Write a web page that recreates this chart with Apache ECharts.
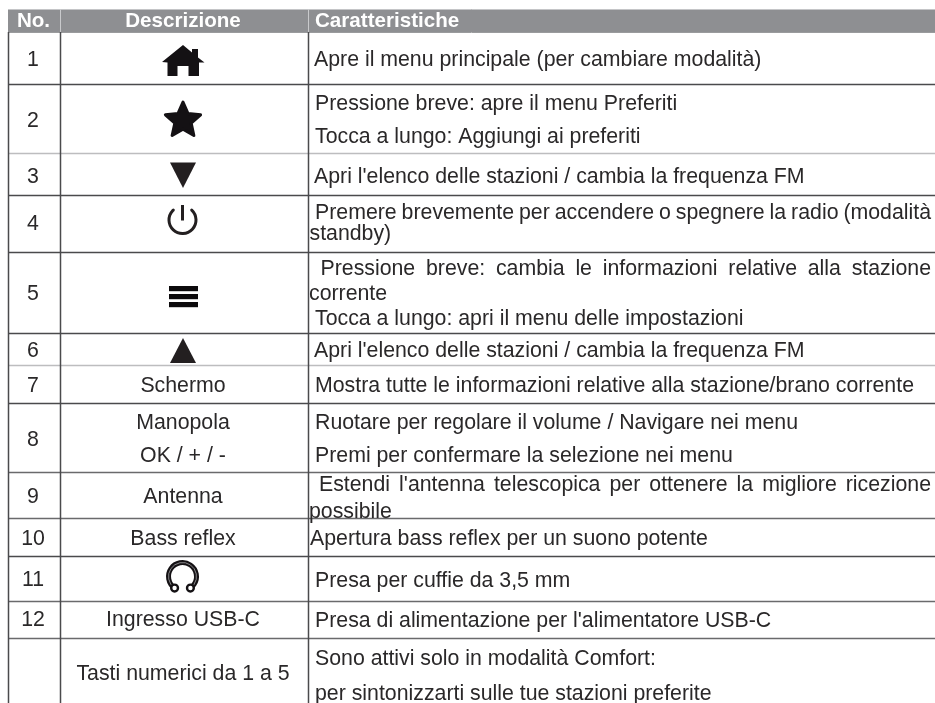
<!DOCTYPE html>
<html><head><meta charset="utf-8"><style>html,body{margin:0;padding:0;background:#fff}#c{width:935px;height:703px;filter:blur(0.35px)}</style>
<script src="https://cdn.jsdelivr.net/npm/echarts@6/dist/echarts.min.js"></script></head>
<body><div id="c"></div>
<script>
const headers = ['No.', 'Descrizione', 'Caratteristiche'];
const rowNumbers = ['1','2','3','4','5','6','7','8','9','10','11','12',''];
const descriptions = [['@home'],['@star'],['@down'],['@power'],['@menu'],['@up'],['Schermo'],['Manopola','OK / + / -'],['Antenna'],['Bass reflex'],['@phones'],['Ingresso USB-C'],['Tasti numerici da 1 a 5']];
const features = [
 ['Apre il menu principale (per cambiare modalità)'],
 ['Pressione breve: apre il menu Preferiti','Tocca a lungo: Aggiungi ai preferiti'],
 ["Apri l'elenco delle stazioni / cambia la frequenza FM"],
 ['Premere brevemente per accendere o spegnere la radio (modalità','standby)'],
 ['Pressione breve: cambia le informazioni relative alla stazione','corrente','Tocca a lungo: apri il menu delle impostazioni'],
 ["Apri l'elenco delle stazioni / cambia la frequenza FM"],
 ['Mostra tutte le informazioni relative alla stazione/brano corrente'],
 ['Ruotare per regolare il volume / Navigare nei menu','Premi per confermare la selezione nei menu'],
 ["Estendi l'antenna telescopica per ottenere la migliore ricezione",'possibile'],
 ['Apertura bass reflex per un suono potente'],
 ['Presa per cuffie da 3,5 mm'],
 ["Presa di alimentazione per l'alimentatore USB-C"],
 ['Sono attivi solo in modalità Comfort:','per sintonizzarti sulle tue stazioni preferite']
];

// layout
const X0=8.5, X1=60.5, X2=308.5, XR=935, NUMX=33, DESCX=183;
const rowEdges=[32.5,84.5,153.5,195.5,252.5,333.5,365.5,403.5,472.5,518.5,556.5,601.5,638.5,703];
const edgeColors=['#4a4a4c','#bdbdbf','#4a4a4c','#4a4a4c','#4a4a4c','#bdbdbf','#4a4a4c','#6a6a6c','#6a6a6c','#4a4a4c','#6a6a6c','#6a6a6c'];
const numY=[59,120,176,223,293,350,385,439,496,538,579,619];
const descY=[[],[],[],[],[],[],[385],[422,455],[496],[538],[],[619],[673]];
const lineY=[[59],[103,136],[176],[212,233],[268,293,318],[350],[385],[422,455],[484,511],[538],[580],[620],[658,693]];
const lineX=[[314],[315,315],[314],[315,309.5],[320.5,309,315],[314],[315],[315,315],[319,309],[310],[315],[315],[315,315]];
const FONT='"Liberation Sans", Arial, sans-serif';
const FS='21.3px '+FONT, FB='bold 20.6px '+FONT, INK='#2a2829';
const JUSTIFY={3:[0,931],4:[0,931],8:[0,931]};
const g=[];
const ln=(x1,y1,x2,y2,c,w)=>g.push({type:'line',silent:true,shape:{x1,y1,x2,y2},style:{stroke:c,lineWidth:w||1.3}});
const tx=(text,x,y,align,font,fill)=>g.push({type:'text',silent:true,style:{text,x,y:y+0.8,font:font||FS,fill:fill||INK,textAlign:align||'left',textVerticalAlign:'middle'}});
const poly=(points,fill,stroke,w)=>g.push({type:'polygon',silent:true,shape:{points},style:{fill:fill||'none',stroke:stroke||'none',lineWidth:w||0,lineJoin:'round'}});

// header
g.push({type:'rect',silent:true,shape:{x:8,y:9,width:927,height:23},style:{fill:'#8e8f92'}});
ln(8,9.5,935,9.5,'#c4c5c7',1);
ln(X1,9,X1,32,'#c9cacc',1); ln(X2,9,X2,32,'#c9cacc',1);
tx(headers[0],33.5,21,'center',FB,'#fff');
tx(headers[1],183,21,'center',FB,'#fff');
tx(headers[2],315,21,'left',FB,'#fff');

// grid
edgeColors.forEach((c,i)=>ln(8,rowEdges[i+1],XR,rowEdges[i+1],c));
ln(8,32.5,XR,32.5,'#9a9b9d',1);
[X0,X1,X2].forEach(x=>ln(x,32,x,703,'#4a4a4c',1.5));

// icons
const icons={
 home(){poly([[162,62],[183,45],[192,52.5],[192,49],[198,49],[198,57.5],[204.5,62.5],[199,62.5],[199,76],[188.5,76],[188.5,66],[177.5,66],[177.5,76],[167.5,76],[167.5,62.5]],'#141114');},
 star(){const p=[],cx=183,cy=120.5;for(let i=0;i<10;i++){const r=i%2?8.6:18.5,a=-Math.PI/2+i*Math.PI/5;p.push([cx+r*Math.cos(a),cy+r*Math.sin(a)]);}poly(p,'#141114','#141114',3);},
 down(){poly([[170,162.5],[196,162.5],[183,188]],'#231f20');},
 up(){poly([[170,363],[196,363],[183,338]],'#231f20');},
 power(){g.push({type:'arc',silent:true,shape:{cx:182.5,cy:220,r:13.5,startAngle:-Math.PI/2+0.75,endAngle:-Math.PI/2-0.75,clockwise:true},style:{fill:'none',stroke:'#231f20',lineWidth:3,lineCap:'round'}});ln(182.5,205,182.5,220.5,'#231f20',3);},
 menu(){[286,294,302].forEach(y=>g.push({type:'rect',silent:true,shape:{x:169,y,width:29,height:5.2},style:{fill:'#0c0a0c'}}));},
 phones(){const cx=182.5,cy=576.5,r=14;const a={type:'arc',silent:true,shape:{cx,cy,r,startAngle:Math.PI/2+0.6,endAngle:Math.PI/2-0.6,clockwise:true}};
  g.push({...a,style:{fill:'none',stroke:'#141114',lineWidth:5}},{...a,style:{fill:'none',stroke:'#a4a4a6',lineWidth:0.8}});
  [-1,1].forEach(s=>g.push({type:'circle',silent:true,shape:{cx:cx+s*r*Math.sin(0.6),cy:cy+r*Math.cos(0.6),r:3.4},style:{fill:'#fff',stroke:'#141114',lineWidth:2.4}}));}
};

// body
const ctx=document.createElement('canvas').getContext('2d');ctx.font=FS;
rowNumbers.forEach((n,i)=>{
  if(n) tx(n,NUMX,numY[i],'center');
  const d=descriptions[i];
  if(d[0][0]==='@') icons[d[0].slice(1)]();
  else d.forEach((t,k)=>tx(t,DESCX,descY[i][k],'center'));
  features[i].forEach((t,k)=>{
    const x=lineX[i][k],y=lineY[i][k];
    if(JUSTIFY[i]&&JUSTIFY[i][0]===k){
      const words=t.split(' '),ws=words.map(w=>ctx.measureText(w).width),total=ws.reduce((a,b)=>a+b,0);
      const gap=(JUSTIFY[i][1]-x-total)/(words.length-1);let px=x;
      words.forEach((w,j)=>{tx(w,px,y);px+=ws[j]+gap;});
    } else tx(t,x,y);
  });
});

const chart=echarts.init(document.getElementById('c'),null,{renderer:'canvas',width:935,height:703});
chart.setOption({animation:false,backgroundColor:'#fff',graphic:{elements:g}});
</script></body></html>
